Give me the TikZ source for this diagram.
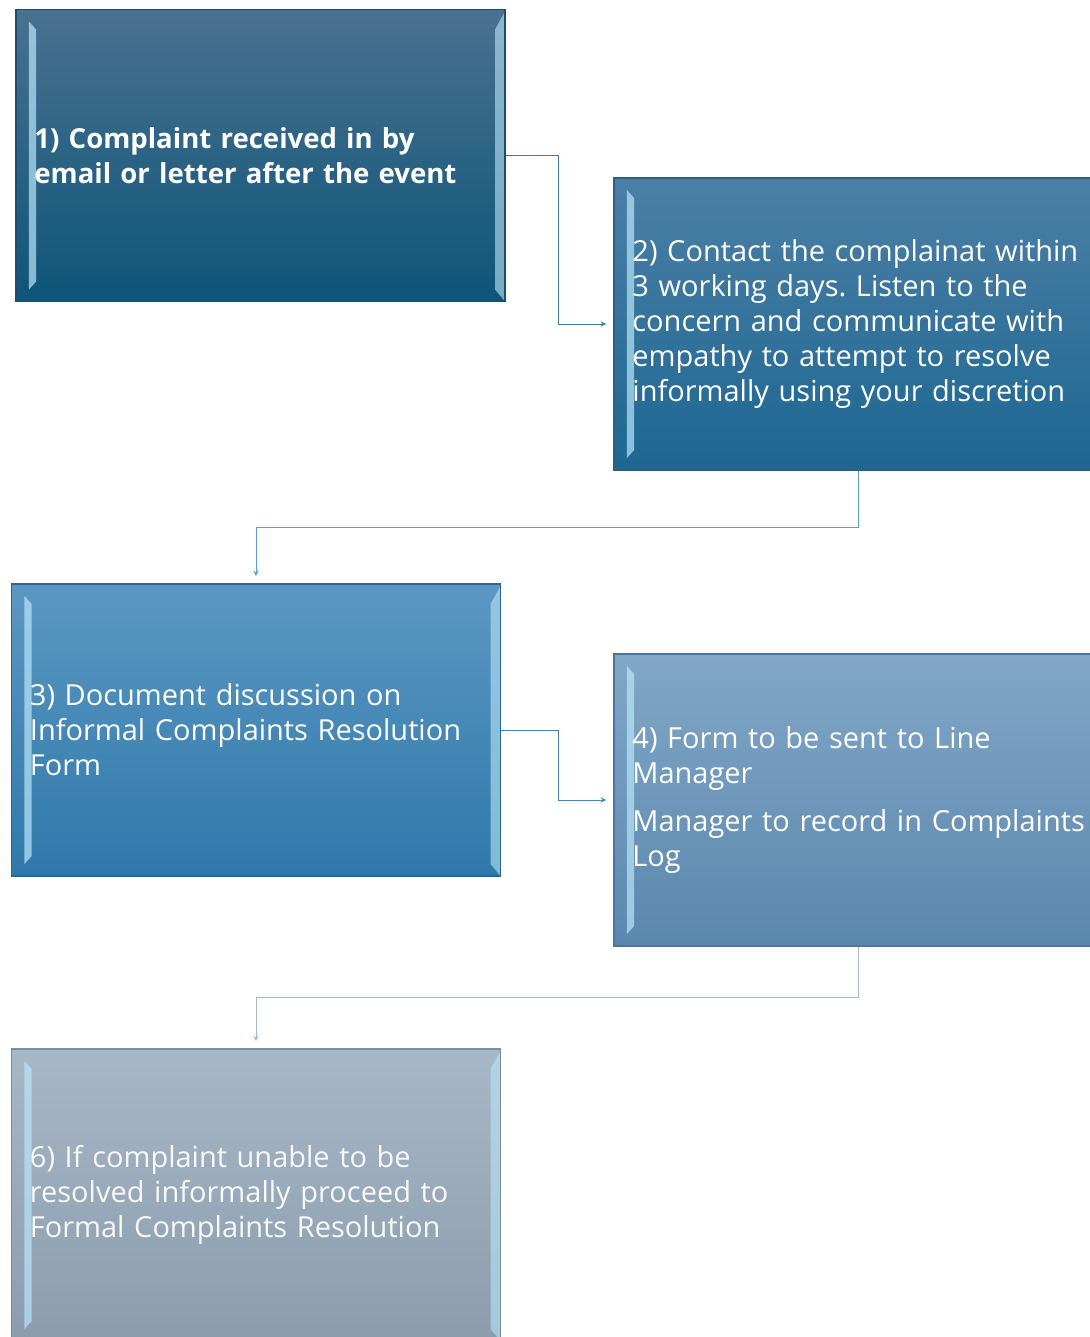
\documentclass[tikz,border=0pt]{standalone}
\usepackage{fontspec}
\setmainfont{Open Sans}
\usepackage{xcolor}
\usetikzlibrary{arrows,positioning}

\definecolor{oneTop}{HTML}{4A7190}
\definecolor{oneBot}{HTML}{0E5579}
\definecolor{oneEdge}{HTML}{1D4D6A}
\definecolor{twoTop}{HTML}{4D7FA5}
\definecolor{twoBot}{HTML}{1C6792}
\definecolor{twoEdge}{HTML}{2D5F80}
\definecolor{threeTop}{HTML}{5C97C2}
\definecolor{threeBot}{HTML}{2F79AA}
\definecolor{threeEdge}{HTML}{30658F}
\definecolor{fourTop}{HTML}{82A7C6}
\definecolor{fourBot}{HTML}{5A87AE}
\definecolor{fourEdge}{HTML}{4C7698}
\definecolor{sixTop}{HTML}{A8B7C6}
\definecolor{sixBot}{HTML}{8A9CAE}
\definecolor{sixEdge}{HTML}{7C8D9E}
\definecolor{lineOne}{HTML}{3F7A98}
\definecolor{lineTwo}{HTML}{5E9FC4}
\definecolor{lineThree}{HTML}{4A87B0}
\definecolor{lineFour}{HTML}{A6BCCB}
\definecolor{bevelLight}{HTML}{B8E6FA}

\begin{document}
\frenchspacing
\begin{tikzpicture}[x=0.025cm, y=-0.025cm]
\tikzstyle{stepbox} = [rectangle, minimum width=12.225cm, minimum height=7.3cm, inner xsep=0.45cm, text width=11.3cm, align=left, text=white, font=\fontsize{20.6}{24.8}\selectfont, line width=1pt,
  path picture={
    % left bevel
    \fill[bevelLight, opacity=0.7] ([shift={(0.325cm,-0.3cm)}]path picture bounding box.north west) -- ++(0.18cm,-0.2cm)
      -- ([shift={(0.505cm,0.5cm)}]path picture bounding box.south west) -- ++(-0.18cm,-0.2cm) -- cycle;
    % right bevel
    \fill[bevelLight, opacity=0.6] ([shift={(-0.25cm,-0.5cm)}]path picture bounding box.north east) -- ([yshift=-0.05cm]path picture bounding box.north east)
      -- (path picture bounding box.south east) -- ([shift={(-0.25cm,0.3cm)}]path picture bounding box.south east) -- cycle;
  }]
\tikzstyle{arrow} = [->, >=stealth, line width=0.7pt]

\useasboundingbox (0,0) rectangle (1090,1337);
\clip (0,0) rectangle (1090,1337);

\node (b1) [stepbox, top color=oneTop, bottom color=oneBot, draw=oneEdge, font=\fontsize{19.6}{24.8}\selectfont\bfseries] at (260.5,155.5) {1) Complaint received in by\\\mbox{email or letter after the event}};
\node (b2) [stepbox, top color=twoTop, bottom color=twoBot, draw=twoEdge] at (858.5,324) {\mbox{2) Contact the complainat within}\\3 working days. Listen to the\\\mbox{concern and communicate with}\\empathy to attempt to resolve\\\mbox{informally using your discretion}};
\node (b3) [stepbox, top color=threeTop, bottom color=threeBot, draw=threeEdge] at (256,730) {3) Document discussion on\\\mbox{Informal Complaints Resolution}\\Form};
\node (b4) [stepbox, top color=fourTop, bottom color=fourBot, draw=fourEdge] at (858.5,800) {4) Form to be sent to Line\\Manager\\[0.35cm]\mbox{Manager to record in Complaints}\\Log};
\node (b6) [stepbox, top color=sixTop, bottom color=sixBot, draw=sixEdge, text=white!92!sixTop] at (256,1195) {6) If complaint unable to be\\\mbox{resolved informally proceed to}\\\mbox{Formal Complaints Resolution}};

\draw [arrow, draw=lineOne] (b1.east) -- ++(53,0) |- ([xshift=-0.18cm]b2.west);
\draw [arrow, draw=lineTwo] (b2.south) -- ++(0,57) -| ([yshift=0.18cm]b3.north);
\draw [arrow, draw=lineThree] (b3.east) -- ++(57,0) |- ([xshift=-0.18cm]b4.west);
\draw [arrow, draw=lineFour] (b4.south) -- ++(0,51) -| ([yshift=0.18cm]b6.north);

\end{tikzpicture}
\end{document}
